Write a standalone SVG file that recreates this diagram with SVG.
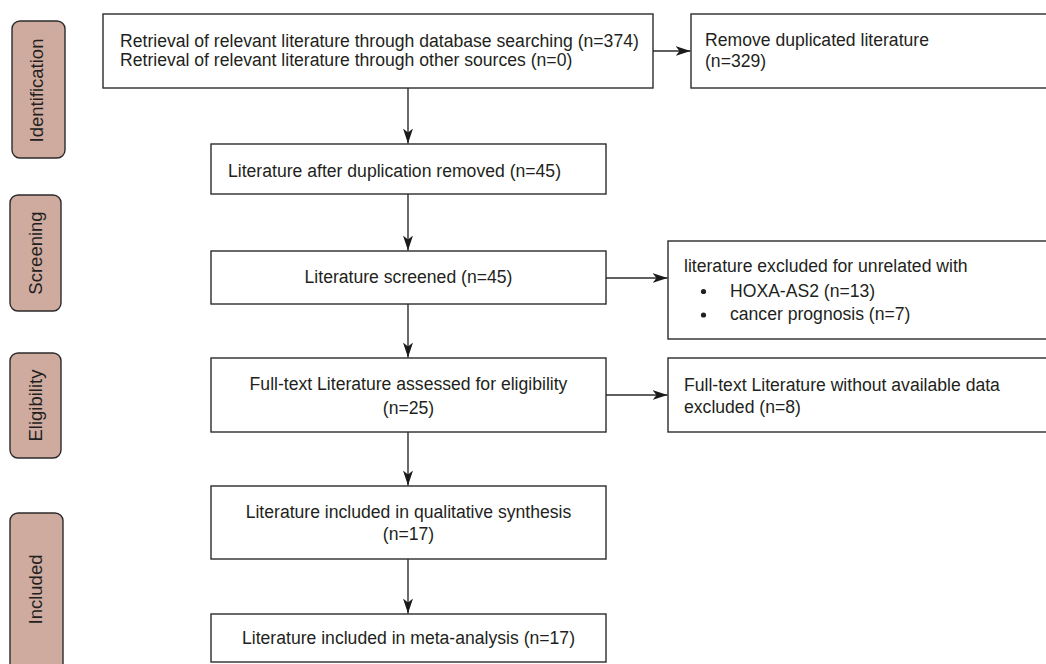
<svg xmlns="http://www.w3.org/2000/svg" width="1046" height="664" viewBox="0 0 1046 664">
<style>
.bg{fill:#ffffff}
.box{fill:#ffffff;stroke:#2b2b2b;stroke-width:1.4}
.pill{fill:#cfab9f;stroke:#2b2b2b;stroke-width:1.4}
.t{font-family:"Liberation Sans",Arial,sans-serif;font-size:17.6px;fill:#231f20}
.c{text-anchor:middle}
.pt{font-family:"Liberation Sans",Arial,sans-serif;font-size:18.5px;fill:#231f20;text-anchor:middle}
.ln{stroke:#2b2b2b;stroke-width:1.4;fill:none;marker-end:url(#ah)}
</style>
<defs>
<marker id="ah" markerUnits="userSpaceOnUse" markerWidth="17" markerHeight="11" refX="15" refY="5" orient="auto">
<path d="M0,0 L15,5 L0,10 L4,5 Z" fill="#1a1a1a"/>
</marker>
</defs>
<rect class="bg" x="0" y="0" width="1046" height="664"/>

<g id="phase-identification">
<rect class="pill" x="12" y="21" width="53" height="137" rx="8"/>
<text class="pt" transform="translate(43,90.5) rotate(-90)">Identification</text>
</g>
<g id="phase-screening">
<rect class="pill" x="10" y="195" width="51" height="116" rx="8"/>
<text class="pt" transform="translate(41.5,253) rotate(-90)">Screening</text>
</g>
<g id="phase-eligibility">
<rect class="pill" x="10" y="353" width="51" height="105" rx="8"/>
<text class="pt" transform="translate(41.5,405.5) rotate(-90)">Eligibility</text>
</g>
<g id="phase-included">
<rect class="pill" x="10" y="513" width="53" height="170" rx="8"/>
<text class="pt" transform="translate(41.5,589.5) rotate(-90)">Included</text>
</g>

<g id="n-retrieval">
<rect class="box" x="103" y="14" width="550" height="74"/>
<text class="t" x="120" y="47">Retrieval of relevant literature through database searching (n=374)</text>
<text class="t" x="120" y="65.5">Retrieval of relevant literature through other sources (n=0)</text>
</g>
<g id="n-remove">
<rect class="box" x="691" y="14" width="360" height="74"/>
<text class="t" x="705" y="46">Remove duplicated literature</text>
<text class="t" x="705" y="67">(n=329)</text>
</g>
<g id="n-after-dup">
<rect class="box" x="211" y="144" width="395" height="50"/>
<text class="t" x="228" y="177">Literature after duplication removed (n=45)</text>
</g>
<g id="n-screened">
<rect class="box" x="211" y="251" width="395" height="53"/>
<text class="t c" x="408.5" y="283">Literature screened (n=45)</text>
</g>
<g id="n-excluded-unrelated">
<rect class="box" x="668" y="241" width="383" height="98"/>
<text class="t" x="684" y="272">literature excluded for unrelated with</text>
<circle cx="703.5" cy="291.5" r="2.6" fill="#231f20"/>
<text class="t" x="730" y="296.5">HOXA-AS2 (n=13)</text>
<circle cx="703.5" cy="315" r="2.6" fill="#231f20"/>
<text class="t" x="730" y="320">cancer prognosis (n=7)</text>
</g>
<g id="n-fulltext">
<rect class="box" x="211" y="358" width="395" height="74"/>
<text class="t c" x="408.5" y="390">Full-text Literature assessed for eligibility</text>
<text class="t c" x="408.5" y="414">(n=25)</text>
</g>
<g id="n-fulltext-excluded">
<rect class="box" x="668" y="358" width="383" height="74"/>
<text class="t" x="684" y="391">Full-text Literature without available data</text>
<text class="t" x="684" y="413">excluded (n=8)</text>
</g>
<g id="n-qualitative">
<rect class="box" x="211" y="486" width="395" height="73"/>
<text class="t c" x="408.5" y="518">Literature included in qualitative synthesis</text>
<text class="t c" x="408.5" y="540">(n=17)</text>
</g>
<g id="n-meta">
<rect class="box" x="211" y="614" width="395" height="48"/>
<text class="t c" x="408.5" y="644">Literature included in meta-analysis (n=17)</text>
</g>

<g id="connectors">
<line class="ln" x1="653" y1="51" x2="690.5" y2="51"/>
<line class="ln" x1="408" y1="88" x2="408" y2="143.5"/>
<line class="ln" x1="408" y1="194" x2="408" y2="250.5"/>
<line class="ln" x1="606" y1="278" x2="667.5" y2="278"/>
<line class="ln" x1="408" y1="304" x2="408" y2="357.5"/>
<line class="ln" x1="606" y1="395" x2="667.5" y2="395"/>
<line class="ln" x1="408" y1="432" x2="408" y2="485.5"/>
<line class="ln" x1="408" y1="559" x2="408" y2="613.5"/>
</g>
</svg>
